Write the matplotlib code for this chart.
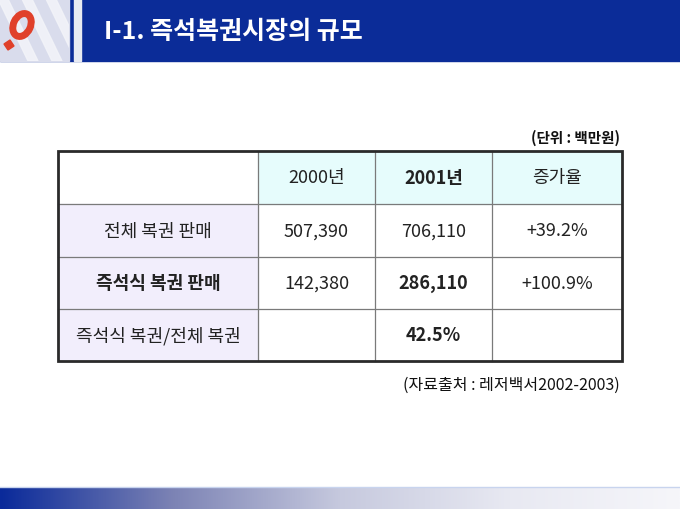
"""
Slide: I-1. 즉석복권시장의 규모 (table of lottery sales)
"""

import numpy as np
import matplotlib.pyplot as plt
from matplotlib.patches import Rectangle, Polygon, Ellipse
from matplotlib.colors import LinearSegmentedColormap

plt.rcParams['font.family'] = ['Noto Sans CJK KR', 'DejaVu Sans']

# table content
col_headers = ["", "2000년", "2001년", "증가율"]
row_labels = ["전체 복권 판매", "즉석식 복권 판매", "즉석식 복권/전체 복권"]
sales_2000 = ["507,390", "142,380", ""]
sales_2001 = ["706,110", "286,110", "42.5%"]
growth = ["+39.2%", "+100.9%", ""]

title = "I-1. 즉석복권시장의 규모"
unit_note = "(단위 : 백만원)"
source_note = "(자료출처 : 레저백서2002-2003)"

W, H = 680, 510
fig = plt.figure(figsize=(6.8, 5.1), dpi=100)
ax = fig.add_axes([0, 0, 1, 1])
ax.set_xlim(0, W)
ax.set_ylim(H, 0)
ax.axis("off")

# header band
ax.add_patch(Rectangle((0, 0), W, 62, color="#0b2c98", zorder=1))
logo_bg = Rectangle((0, 0), 69, 62, color="#d9dcec", zorder=2)
ax.add_patch(logo_bg)
for x0 in [-2, 22, 46]:
    stripe = Polygon([[x0, 0], [x0 + 10, 0], [x0 + 40, 62], [x0 + 30, 62]],
                     closed=True, color="#f3f4f9", alpha=0.85, zorder=2)
    ax.add_patch(stripe)
    stripe.set_clip_path(logo_bg)
ax.add_patch(Rectangle((74, 0), 7, 62, color="#e8eaf2", zorder=2))
ax.add_patch(Ellipse((22, 26), 17, 24, angle=25, fill=False, lw=5,
                     edgecolor="#e0402a", zorder=3))
ax.add_patch(Polygon([[4, 45], [10, 41], [14, 47], [8, 51]], closed=True,
                     color="#e0402a", zorder=3))
ax.text(104, 32, title, color="white", fontsize=18, fontweight="bold",
        va="center", ha="left", zorder=4)

# bottom gradient band
grad = np.linspace(0, 1, 256).reshape(1, -1)
cmap = LinearSegmentedColormap.from_list(
    "band", ["#0a2a9a", "#7b82b4", "#c6c9de", "#e8e9f2", "#f6f6fa"])
ax.imshow(grad, cmap=cmap, aspect="auto", extent=(0, W, H, 489), zorder=1)
ax.plot([0, W], [488, 488], color="#c8d4ee", lw=1, zorder=2)

# table geometry
col_x = [58, 258, 375, 492, 622]
row_y = [152, 205, 258, 310, 362]

cyan = "#e6fcfc"
lav = "#f2eefc"
for j in range(1, 4):
    ax.add_patch(Rectangle((col_x[j], row_y[0]), col_x[j + 1] - col_x[j],
                           row_y[1] - row_y[0], color=cyan, zorder=2))
for i in range(1, 4):
    ax.add_patch(Rectangle((col_x[0], row_y[i]), col_x[1] - col_x[0],
                           row_y[i + 1] - row_y[i], color=lav, zorder=2))

for x in col_x[1:-1]:
    ax.plot([x, x], [row_y[0], row_y[-1]], color="#7a7a7a", lw=0.9, zorder=3)
for y in row_y[1:-1]:
    ax.plot([col_x[0], col_x[-1]], [y, y], color="#7a7a7a", lw=0.9, zorder=3)
ax.add_patch(Rectangle((col_x[0], row_y[0]), col_x[-1] - col_x[0],
                       row_y[-1] - row_y[0], fill=False, edgecolor="#2a2a2a",
                       lw=2, zorder=4))

cx = [(col_x[k] + col_x[k + 1]) / 2 for k in range(4)]
cy = [(row_y[k] + row_y[k + 1]) / 2 for k in range(4)]

fs = 13
for j, txt in enumerate(col_headers):
    ax.text(cx[j], cy[0], txt, ha="center", va="center", fontsize=fs,
            fontweight="bold" if j == 2 else "normal", color="#222", zorder=5)

bold_rows = [1]
for i in range(3):
    wt = "bold" if i in bold_rows else "normal"
    ax.text(cx[0], cy[i + 1], row_labels[i], ha="center", va="center",
            fontsize=fs, fontweight=wt, color="#222", zorder=5)
    ax.text(cx[1], cy[i + 1], sales_2000[i], ha="center", va="center",
            fontsize=fs, color="#222", zorder=5)
    ax.text(cx[2], cy[i + 1], sales_2001[i], ha="center", va="center",
            fontsize=fs, fontweight="bold" if i > 0 else "normal",
            color="#222", zorder=5)
    ax.text(cx[3], cy[i + 1], growth[i], ha="center", va="center",
            fontsize=fs, color="#222", zorder=5)

ax.text(620, 138, unit_note, ha="right", va="center", fontsize=10.5,
        fontweight="bold", color="#111")
ax.text(620, 385, source_note, ha="right", va="center", fontsize=11.5,
        color="#111")

fig.savefig("out.png", dpi=100)
